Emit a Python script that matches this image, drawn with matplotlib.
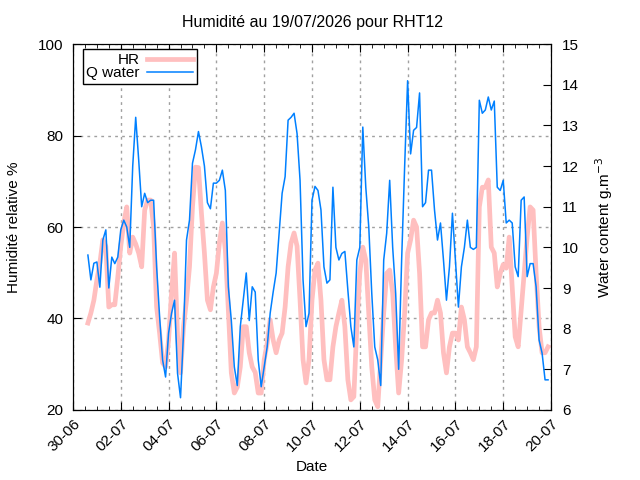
import matplotlib
matplotlib.use('Agg')
import matplotlib.pyplot as plt
import matplotlib.dates as mdates
import pandas as pd

# Readings every 3 hours, from 30/06 15:00 to 19/07 21:00
start = '2026-06-30 15:00'

hr = [39.0, 41.2, 44.0, 48.4, 52.1, 57.2, 55.8, 42.5, 43.0, 43.0,
      49.0, 55.8, 60.9, 64.4, 54.3, 57.8, 56.3, 54.3, 51.3, 63.7,
      65.9, 65.9, 60.0, 42.5, 36.8, 30.3, 29.4, 35.3, 45.6, 54.3,
      36.3, 28.1, 38.2, 44.0, 51.3, 64.4, 73.1, 73.0, 63.0, 54.3,
      44.0, 41.9, 46.9, 49.9, 56.5, 60.9, 55.0, 41.9, 28.1, 23.7,
      25.0, 29.4, 38.2, 38.2, 32.5, 29.4, 28.2, 23.7, 23.7, 31.0,
      34.6, 39.7, 35.3, 32.5, 35.3, 36.8, 42.5, 51.3, 56.5, 58.7,
      55.8, 44.0, 31.0, 25.9, 31.0, 44.0, 50.6, 52.1, 44.0, 31.0,
      26.6, 26.6, 33.8, 38.2, 41.2, 44.0, 38.2, 26.6, 22.2, 22.9,
      38.2, 49.9, 55.6, 52.8, 41.2, 29.4, 22.2, 20.7, 31.0, 41.2,
      49.9, 50.6, 45.6, 33.8, 23.7, 31.0, 41.2, 54.3, 57.2, 61.5,
      60.0, 49.9, 33.8, 33.8, 39.7, 41.2, 41.2, 44.0, 41.2, 32.5,
      28.1, 33.8, 36.8, 36.8, 35.3, 42.5, 39.7, 33.8, 32.5, 31.0,
      33.8, 64.4, 68.7, 68.7, 70.3, 55.6, 54.3, 46.9, 49.9, 51.8,
      51.0, 57.8, 46.9, 36.0, 33.8, 41.9, 49.9, 57.8, 64.4, 63.7,
      49.9, 38.2, 32.5, 32.5, 33.8]

q_water = [9.81, 9.20, 9.61, 9.64, 9.02, 10.18, 10.43, 9.00, 9.76, 9.60,
           9.76, 10.43, 10.67, 10.50, 10.00, 12.00, 13.20, 12.15, 11.00, 11.33,
           11.10, 11.16, 11.16, 9.52, 8.29, 7.23, 6.81, 7.89, 8.38, 8.70,
           6.90, 6.30, 7.90, 10.18, 10.67, 12.07, 12.40, 12.85, 12.47, 12.00,
           11.10, 10.95, 11.58, 11.58, 11.65, 11.90, 11.40, 9.03, 8.20, 7.06,
           6.60, 8.05, 8.70, 9.37, 8.20, 9.03, 8.90, 7.23, 6.57, 7.06,
           7.55, 8.38, 8.90, 9.37, 10.35, 11.33, 11.74, 13.13, 13.20, 13.30,
           12.80, 11.65, 9.20, 8.05, 8.38, 11.16, 11.50, 11.40, 10.92, 9.52,
           9.12, 9.20, 11.48, 10.00, 9.69, 9.85, 9.90, 8.95, 8.05, 7.55,
           9.69, 10.00, 12.96, 11.48, 10.50, 8.87, 7.55, 7.23, 6.60, 9.69,
           10.35, 11.65, 10.00, 8.87, 7.00, 9.69, 11.98, 14.10, 12.30, 12.88,
           12.95, 13.80, 11.00, 11.10, 11.90, 11.90, 10.92, 10.18, 10.60, 9.69,
           8.70, 9.52, 10.84, 9.69, 8.53, 9.52, 10.00, 10.67, 10.00, 9.95,
           10.00, 13.62, 13.30, 13.38, 13.70, 13.38, 13.60, 11.48, 11.40, 11.65,
           10.60, 10.67, 10.60, 9.52, 9.28, 11.16, 11.24, 9.28, 9.60, 9.60,
           9.03, 7.72, 7.40, 6.74, 6.74]

dates = pd.date_range(start, periods=len(hr), freq='3h')

plt.rcParams['font.family'] = ['Liberation Sans', 'DejaVu Sans']
plt.rcParams['font.size'] = 11

fig = plt.figure(figsize=(6.4, 4.8), dpi=100)
ax = fig.add_axes([0.114, 0.146, 0.747, 0.762])
ax2 = ax.twinx()

l1, = ax.plot(dates, hr, color='#ffbfbf', lw=3.4, label='HR')
l2, = ax2.plot(dates, q_water, color='#0080ff', lw=1.1, label='Q water')

ax.set_xlim(pd.Timestamp('2026-06-30'), pd.Timestamp('2026-07-20'))
ax.set_ylim(20, 100)
ax2.set_ylim(6, 15)
ax.set_yticks([20, 40, 60, 80, 100])
ax2.set_yticks(range(6, 16))

ax.xaxis.set_major_locator(mdates.DayLocator(interval=2))
ax.xaxis.set_minor_locator(mdates.HourLocator(byhour=[0, 12]))
ax.xaxis.set_major_formatter(mdates.DateFormatter('%d-%m'))
plt.setp(ax.get_xticklabels(), rotation=45, ha='right', rotation_mode='anchor')

ax.tick_params(axis='x', which='both', direction='in', top=True)
ax.tick_params(axis='x', which='major', length=6, pad=5)
ax.tick_params(axis='x', which='minor', length=3)
ax.tick_params(axis='y', direction='in', length=6, pad=7)
ax2.tick_params(axis='y', direction='in', length=6, pad=8)

ax.grid(True, which='major', color='#a0a0a0', ls=(0, (2, 3)), lw=1.0)

ax.set_title('Humidité au 19/07/2026 pour RHT12', fontsize=11.5, pad=12)
ax.set_xlabel('Date')
ax.set_ylabel('Humidité relative %', labelpad=12)
ax2.set_ylabel('Water content g.m$^{-3}$', labelpad=10)

leg = ax2.legend([l1, l2], ['HR', 'Q water'], loc='upper left',
                 bbox_to_anchor=(0.02, 0.987), markerfirst=False,
                 fancybox=False, edgecolor='black', framealpha=1,
                 borderaxespad=0, handlelength=3.0, handletextpad=0.5,
                 handleheight=0.5, borderpad=0.25, labelspacing=-0.05)
leg.get_frame().set_linewidth(1.0)

fig.savefig('out.png', dpi=100)
